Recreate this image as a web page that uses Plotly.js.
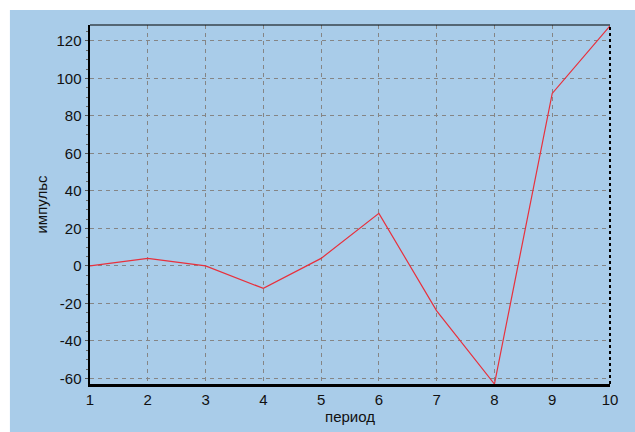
<!DOCTYPE html>
<html><head><meta charset="utf-8">
<script src="https://cdn.plot.ly/plotly-3.0.1.min.js"></script>
<style>html,body{margin:0;padding:0;background:#fff}</style>
</head><body>
<div id="chart" style="width:635px;height:432px"></div>
<script>
const periods = [1, 2, 3, 4, 5, 6, 7, 8, 9, 10];
const impulse = [0, 4, 0, -12, 4, 28, -24, -63, 92, 128];
const yTickVals = [-60, -40, -20, 0, 20, 40, 60, 80, 100, 120];
const yTickText = ["-60", "-40", "-20", "0", "20", "40", "60", "80", "100", "120"];
const xTitle = "период";
const yTitle = "импульс";

const blue = "#a9cce9";
const trace = {
  x: periods, y: impulse, type: "scatter", mode: "lines",
  line: {color: "#e8303c", width: 1.2}, hoverinfo: "skip"
};
const layout = {
  width: 635, height: 432,
  margin: {l: 90, r: 25, t: 25, b: 48, pad: 0},
  paper_bgcolor: "#ffffff", plot_bgcolor: blue,
  showlegend: false,
  font: {family: "Liberation Sans, Arial, sans-serif", size: 15, color: "#111"},
  xaxis: {
    range: [1, 10], tickmode: "array", tickvals: periods, ticktext: periods.map(String),
    showgrid: true, gridcolor: "#858585", griddash: "4px,4px", gridwidth: 1,
    zeroline: false, showline: true, linecolor: "#000", linewidth: 2.5,
    ticks: "", ticklen: 0,
    title: {text: xTitle, standoff: 3, font: {size: 15}}
  },
  yaxis: {
    range: [-63, 128.5], tickmode: "array", tickvals: yTickVals, ticktext: yTickText,
    showgrid: true, gridcolor: "#858585", griddash: "4px,4px", gridwidth: 1,
    zeroline: false, showline: true, linecolor: "#000", linewidth: 2.5,
    ticks: "outside", ticklen: 3, tickcolor: "#555", tickwidth: 1,
    minor: {dtick: 5, tick0: 0, ticks: "outside", ticklen: 2, tickcolor: "#666", showgrid: false},
    title: {text: yTitle, standoff: 5, font: {size: 15}}
  },
  shapes: [
    {type: "rect", xref: "paper", yref: "paper", x0: -0.154, x1: 1.2, y0: -0.3, y1: 1.0418,
     fillcolor: blue, line: {width: 0}, layer: "below"},
    {type: "line", xref: "paper", yref: "paper", x0: 0, x1: 1, y0: 1, y1: 1,
     line: {color: "#000", width: 1.2}},
    {type: "line", xref: "paper", yref: "paper", x0: 1, x1: 1, y0: 0, y1: 1,
     line: {color: "#000", width: 2, dash: "3px,3px"}}
  ]
};
Plotly.newPlot("chart", [trace], layout, {staticPlot: true, displayModeBar: false});
</script>
</body></html>
